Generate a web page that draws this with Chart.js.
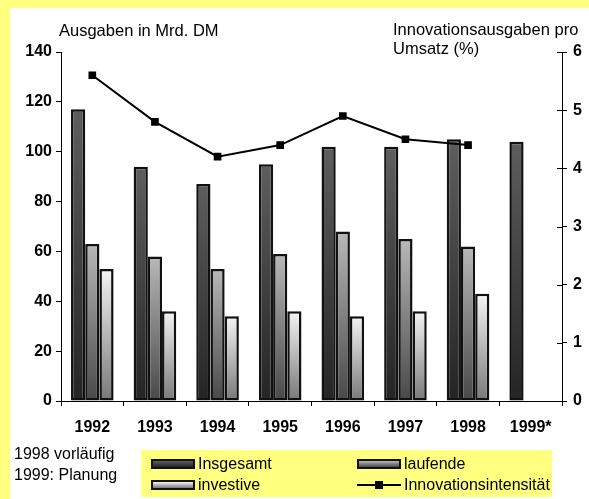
<!DOCTYPE html>
<html>
<head>
<meta charset="utf-8">
<script src="https://cdn.jsdelivr.net/npm/chart.js@4.4.1/dist/chart.umd.min.js"></script>
<style>
  body { margin: 0; background: #ffff80; font-family: "Liberation Sans", Arial, sans-serif; color: #000; }
  #panel { position: absolute; left: 10px; top: 8px; right: 0; bottom: 0; background: #fff; }
  #chart { position: absolute; left: 0; top: 0; }
  .title { position: absolute; font-size: 16.5px; line-height: 19px; white-space: nowrap; }
  .note { position: absolute; left: 14px; font-size: 16px; line-height: 21px; white-space: nowrap; }
  #legend { position: absolute; left: 141px; top: 450px; width: 411px; height: 47px; background: #ffff80; }
  .item { position: absolute; font-size: 16px; line-height: 20px; white-space: nowrap; }
  .swatch { position: absolute; left: -47px; top: 5px; width: 40px; height: 6px; border: 2px solid #111; }
  .lineSwatch { position: absolute; left: -47px; top: 9px; width: 44px; height: 2px; background: #000; }
  .lineSwatch::after { content: ""; position: absolute; left: 18px; top: -3px; width: 8px; height: 8px; background: #000; }
</style>
</head>
<body>
<div id="panel"></div>
<canvas id="chart" width="589" height="499"></canvas>
<div class="title" style="left:59px; top:21px;">Ausgaben in Mrd. DM</div>
<div class="title" style="left:393px; top:20px;">Innovationsausgaben pro<br>Umsatz (%)</div>
<div class="note" style="top:443px;">1998 vorläufig<br>1999: Planung</div>
<div id="legend"></div>
<script>
// Data
const years = ["1992", "1993", "1994", "1995", "1996", "1997", "1998", "1999*"];
const insgesamt = [117, 94, 87, 95, 102, 102, 105, 104];
const laufende = [63, 58, 53, 59, 68, 65, 62, null];
const investive = [53, 36, 34, 36, 34, 36, 43, null];
const intensitaet = [5.6, 4.8, 4.2, 4.4, 4.9, 4.5, 4.4, null];
const seriesNames = ["Insgesamt", "laufende", "investive", "Innovationsintensität"];

const leftTicks = { min: 0, max: 140, step: 20 };
const rightTicks = { min: 0, max: 6, step: 1 };

// gradient top / bottom for every bar series
const barShades = [
  ["#5e5e5e", "#242424"],
  ["#b8b8b8", "#484848"],
  ["#f4f4f4", "#787878"]
];

function barGradient(top, bottom) {
  return function(ctx) {
    const chart = ctx.chart;
    if (!chart.chartArea || ctx.raw == null) return bottom;
    const y = chart.scales.y;
    const g = chart.ctx.createLinearGradient(0, y.getPixelForValue(ctx.raw), 0, y.getPixelForValue(0));
    g.addColorStop(0, top);
    g.addColorStop(1, bottom);
    return g;
  };
}

// right axis in the original has ticks crossing the axis line
const crossTicks = {
  id: "crossTicks",
  afterDraw(chart) {
    const s = chart.scales.y1;
    const c = chart.ctx;
    c.save();
    c.strokeStyle = "#000";
    c.lineWidth = 1;
    s.ticks.forEach(t => {
      const py = Math.round(s.getPixelForValue(t.value)) + 0.5;
      c.beginPath();
      c.moveTo(s.left - 5, py);
      c.lineTo(s.left, py);
      c.stroke();
    });
    c.restore();
  }
};

const tickFont = { family: "'Liberation Sans', Arial, sans-serif", size: 16, weight: "bold" };

const barData = [insgesamt, laufende, investive];
const datasets = [{
  type: "line",
  label: seriesNames[3],
  data: intensitaet,
  yAxisID: "y1",
  borderColor: "#000",
  borderWidth: 2,
  pointStyle: "rect",
  pointRadius: 4,
  pointBackgroundColor: "#000",
  pointBorderColor: "#000",
  order: 0
}];
barData.forEach((d, i) => {
  datasets.push({
    type: "bar",
    label: seriesNames[i],
    data: d,
    yAxisID: "y",
    backgroundColor: barGradient(barShades[i][0], barShades[i][1]),
    borderColor: "#111",
    borderWidth: 2.5,
    borderSkipped: false,
    barPercentage: 1,
    categoryPercentage: 0.68,
    order: 1
  });
});

new Chart(document.getElementById("chart"), {
  data: { labels: years, datasets: datasets },
  options: {
    responsive: false,
    animation: false,
    layout: { padding: { top: 52, left: 0, right: 0, bottom: 0 } },
    plugins: { legend: { display: false }, tooltip: { enabled: false } },
    scales: {
      x: {
        grid: { drawOnChartArea: false, tickLength: 5, color: "#000", offset: true },
        border: { color: "#000" },
        ticks: { font: tickFont, color: "#000", padding: 12 },
        afterFit(s) { s.height = 98; }
      },
      y: {
        position: "left",
        min: leftTicks.min, max: leftTicks.max,
        grid: { drawOnChartArea: false, tickLength: 5, color: "#000" },
        border: { color: "#000" },
        ticks: { stepSize: leftTicks.step, font: tickFont, color: "#000", padding: 4 },
        afterFit(s) { s.width = 61; }
      },
      y1: {
        position: "right",
        min: rightTicks.min, max: rightTicks.max,
        grid: { drawOnChartArea: false, tickLength: 5, color: "#000" },
        border: { color: "#000" },
        ticks: { stepSize: rightTicks.step, font: tickFont, color: "#000", padding: 6 },
        afterFit(s) { s.width = 27; }
      }
    }
  },
  plugins: [crossTicks]
});

// legend, laid out in two columns like the original
const legend = document.getElementById("legend");
const legendPos = [[57, 4], [263, 4], [57, 25], [263, 25]];
seriesNames.forEach((name, i) => {
  const item = document.createElement("div");
  item.className = "item";
  item.style.left = legendPos[i][0] + "px";
  item.style.top = legendPos[i][1] + "px";
  const sw = document.createElement("span");
  if (i < 3) {
    sw.className = "swatch";
    sw.style.background = "linear-gradient(" + barShades[i][0] + ", " + barShades[i][1] + ")";
  } else {
    sw.className = "lineSwatch";
  }
  item.appendChild(sw);
  item.appendChild(document.createTextNode(name));
  legend.appendChild(item);
});
</script>
</body>
</html>
